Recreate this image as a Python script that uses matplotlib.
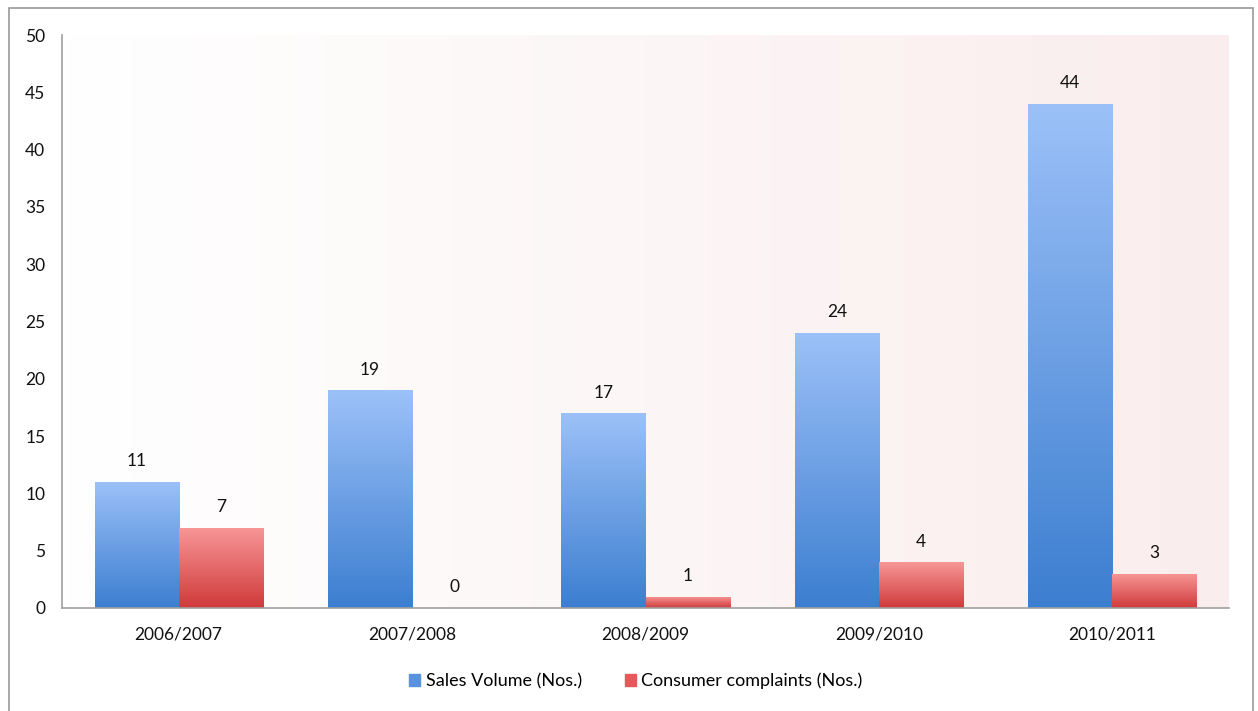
import numpy as np
import matplotlib.pyplot as plt
from matplotlib.patches import Rectangle
from matplotlib.colors import LinearSegmentedColormap

plt.rcParams['font.family'] = ['Lato', 'DejaVu Sans']

years = ["2006/2007", "2007/2008", "2008/2009", "2009/2010", "2010/2011"]
sales = [11, 19, 17, 24, 44]
complaints = [7, 0, 1, 4, 3]

fig = plt.figure(figsize=(12.58, 7.11), dpi=100)
ax = fig.add_axes([62 / 1258, 1 - 608 / 711, (1229 - 62) / 1258, (608 - 35) / 711])

# outer frame
fig.patches.append(Rectangle((9 / 1258, -0.05), (1253 - 9) / 1258, 1.05 - 8 / 711,
                             transform=fig.transFigure, fill=False,
                             edgecolor="#9a9a9a", linewidth=1.2))

x = np.arange(len(years))
w = 0.36

# background gradient
bg = LinearSegmentedColormap.from_list("bg", ["#ffffff", "#faeded"])
ax.imshow(np.linspace(0, 1, 256).reshape(1, -1), cmap=bg, aspect="auto",
          extent=(-0.5, len(years) - 0.5, 0, 50), zorder=0)

blue = LinearSegmentedColormap.from_list("blue", ["#3c7ed0", "#9cc1f8"])
red = LinearSegmentedColormap.from_list("red", ["#d03a3a", "#f89797"])
grad = np.linspace(0, 1, 256).reshape(-1, 1)

def grad_bars(xs, vals, cmap):
    bars = ax.bar(xs, vals, w, align="edge", color="none", zorder=2)
    for b, v in zip(bars, vals):
        if v <= 0:
            continue
        x0 = b.get_x()
        im = ax.imshow(grad, cmap=cmap, origin="lower", aspect="auto",
                       extent=(x0, x0 + w, 0, v), zorder=2)
        im.set_clip_path(b)
    return bars

grad_bars(x - w, sales, blue)
grad_bars(x, complaints, red)

for xi, v in zip(x - w / 2, sales):
    ax.annotate(str(v), (xi, v), xytext=(0, 9), textcoords="offset points",
                ha="center", va="bottom", fontsize=12.5, color="#111111")
for xi, v in zip(x + w / 2, complaints):
    ax.annotate(str(v), (xi, v), xytext=(0, 9), textcoords="offset points",
                ha="center", va="bottom", fontsize=12.5, color="#111111")

ax.set_xlim(-0.5, len(years) - 0.5)
ax.set_ylim(0, 50)
ax.set_xticks(x)
ax.set_xticklabels(years)
ax.set_yticks(np.arange(0, 51, 5))
ax.tick_params(axis="both", length=0, labelsize=12.5, colors="#111111")
ax.tick_params(axis="x", pad=13)
ax.tick_params(axis="y", pad=12)
for s in ["top", "right"]:
    ax.spines[s].set_visible(False)
ax.spines["left"].set_color("#a0a0a0")
ax.spines["bottom"].set_color("#a0a0a0")
ax.spines["left"].set_linewidth(1.2)
ax.spines["bottom"].set_linewidth(1.2)

handles = [Rectangle((0, 0), 1, 1, color="#5a92e0"), Rectangle((0, 0), 1, 1, color="#e35a5a")]
fig.legend(handles, ["Sales Volume (Nos.)", "Consumer complaints (Nos.)"],
           loc="center", bbox_to_anchor=(636 / 1258, 1 - 681 / 711), ncol=2, frameon=False,
           fontsize=13, handlelength=0.6, handleheight=0.6, handletextpad=0.3,
           columnspacing=2.4)

fig.savefig("out.png", dpi=100)
